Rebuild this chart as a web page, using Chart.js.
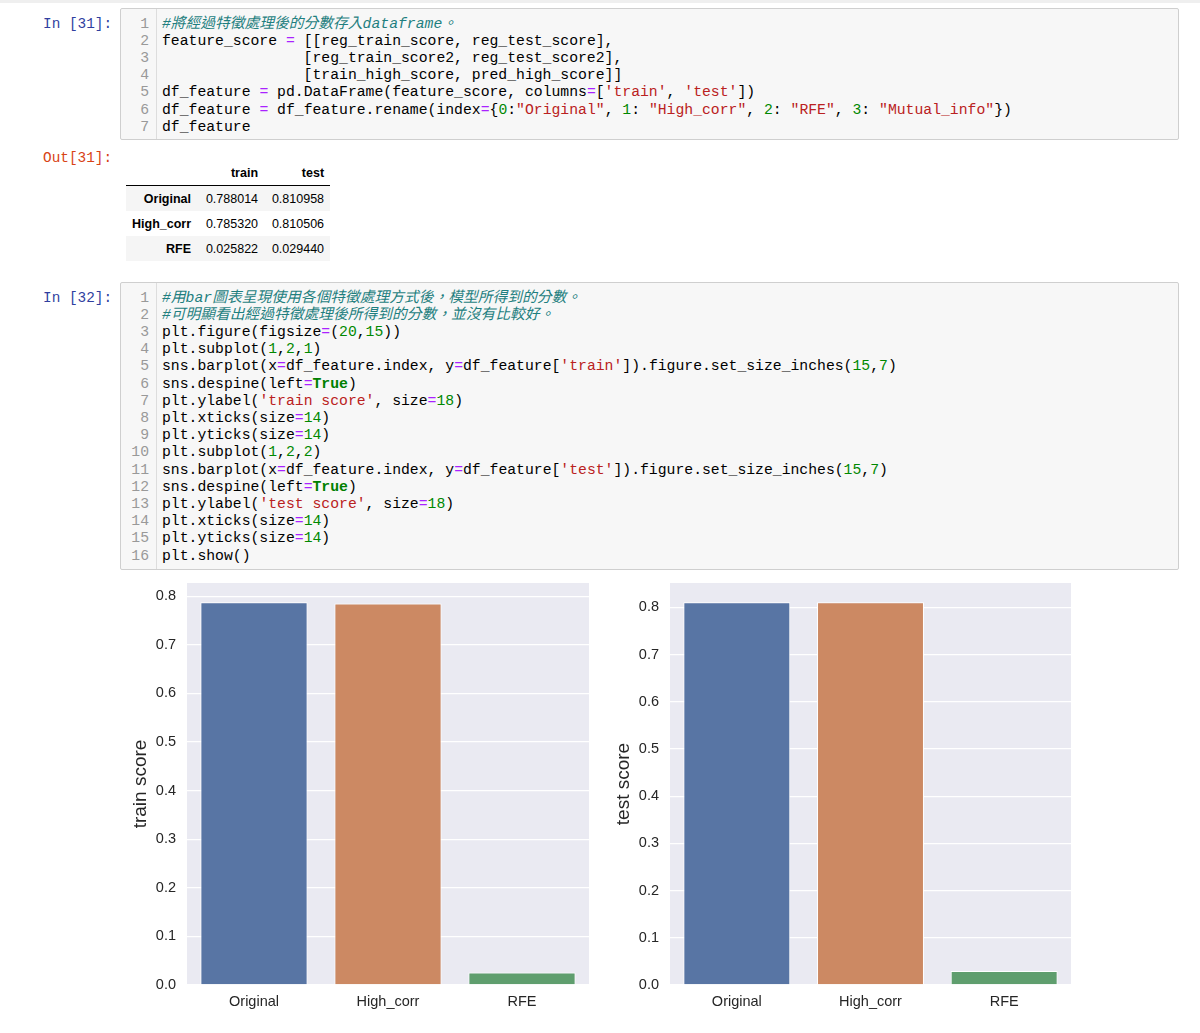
<!DOCTYPE html>
<html>
<head>
<meta charset="utf-8">
<script src="https://cdn.jsdelivr.net/npm/chart.js@4.4.1/dist/chart.umd.min.js"></script>
<style>
  html, body { margin: 0; padding: 0; background: #fff; }
  body { width: 1200px; height: 1033px; position: relative; overflow: hidden; }
  .topline { position: absolute; left: 0; top: 0; width: 1200px; height: 3px; background: #efefef; }
  .prompt { position: absolute; left: 43px; font: 14.4px 'Liberation Mono', monospace; line-height: 17.2px; white-space: pre; }
  .in { color: #303f9f; }
  .out { color: #d84315; }
  .cell { position: absolute; left: 120px; width: 1057px; border: 1px solid #cfcfcf; background: #f7f7f7; border-radius: 2px; }
  .gutter { position: absolute; left: 0; top: 0; bottom: 0; width: 35px; border-right: 1px solid #dddddd; }
  .nums, .code { position: absolute; top: 6.6px; font: 14.76px 'Liberation Mono', 'Noto Sans CJK TC', monospace; line-height: 17.2px; white-space: pre; }
  .nums { left: 0; width: 28px; text-align: right; color: #999; }
  .code { left: 41px; color: #000; }
  .c { color: #1f7f7f; font-style: italic; }
  .o { color: #aa22ff; }
  .n { color: #008800; }
  .s { color: #ba2121; }
  .k { color: #008000; font-weight: bold; }
  table.df { position: absolute; left: 126px; top: 160px; border-collapse: collapse; font: 12.5px 'Liberation Sans', Arial, sans-serif; color: #000; }
  table.df th, table.df td { text-align: right; padding: 0 6px 0 6px; height: 25px; }
  table.df thead th { height: 25px; border-bottom: 1px solid #000; }
  table.df tbody th { font-weight: bold; }
  table.df tbody tr:nth-child(odd) { background: #f5f5f5; }
  canvas { position: absolute; top: 576px; }
</style>
</head>
<body>
<div class="topline"></div>

<div class="prompt in" style="top:15.6px">In [31]:</div>
<div class="cell" style="top:8px;height:130px">
  <div class="gutter"></div>
  <div class="nums">1
2
3
4
5
6
7</div>
  <div class="code"><span class="c">#將經過特徵處理後的分數存入dataframe。</span>
feature_score <span class="o">=</span> [[reg_train_score, reg_test_score],
                [reg_train_score2, reg_test_score2],
                [train_high_score, pred_high_score]]
df_feature <span class="o">=</span> pd.DataFrame(feature_score, columns<span class="o">=</span>[<span class="s">'train'</span>, <span class="s">'test'</span>])
df_feature <span class="o">=</span> df_feature.rename(index<span class="o">=</span>{<span class="n">0</span>:<span class="s">"Original"</span>, <span class="n">1</span>: <span class="s">"High_corr"</span>, <span class="n">2</span>: <span class="s">"RFE"</span>, <span class="n">3</span>: <span class="s">"Mutual_info"</span>})
df_feature</div>
</div>

<div class="prompt out" style="top:149.6px">Out[31]:</div>
<table class="df" id="dfTable">
  <thead><tr><th style="width:59px"></th><th style="width:55px">train</th><th style="width:54px">test</th></tr></thead>
  <tbody></tbody>
</table>

<div class="prompt in" style="top:289.8px">In [32]:</div>
<div class="cell" style="top:282px;height:286px">
  <div class="gutter"></div>
  <div class="nums">1
2
3
4
5
6
7
8
9
10
11
12
13
14
15
16</div>
  <div class="code"><span class="c">#用bar圖表呈現使用各個特徵處理方式後，模型所得到的分數。</span>
<span class="c">#可明顯看出經過特徵處理後所得到的分數，並沒有比較好。</span>
plt.figure(figsize<span class="o">=</span>(<span class="n">20</span>,<span class="n">15</span>))
plt.subplot(<span class="n">1</span>,<span class="n">2</span>,<span class="n">1</span>)
sns.barplot(x<span class="o">=</span>df_feature.index, y<span class="o">=</span>df_feature[<span class="s">'train'</span>]).figure.set_size_inches(<span class="n">15</span>,<span class="n">7</span>)
sns.despine(left<span class="o">=</span><span class="k">True</span>)
plt.ylabel(<span class="s">'train score'</span>, size<span class="o">=</span><span class="n">18</span>)
plt.xticks(size<span class="o">=</span><span class="n">14</span>)
plt.yticks(size<span class="o">=</span><span class="n">14</span>)
plt.subplot(<span class="n">1</span>,<span class="n">2</span>,<span class="n">2</span>)
sns.barplot(x<span class="o">=</span>df_feature.index, y<span class="o">=</span>df_feature[<span class="s">'test'</span>]).figure.set_size_inches(<span class="n">15</span>,<span class="n">7</span>)
sns.despine(left<span class="o">=</span><span class="k">True</span>)
plt.ylabel(<span class="s">'test score'</span>, size<span class="o">=</span><span class="n">18</span>)
plt.xticks(size<span class="o">=</span><span class="n">14</span>)
plt.yticks(size<span class="o">=</span><span class="n">14</span>)
plt.show()</div>
</div>

<canvas id="train-chart" width="469" height="458" style="left:120px"></canvas>
<canvas id="test-chart" width="468" height="458" style="left:603px"></canvas>

<script>
const categories = ['Original', 'High_corr', 'RFE'];
const trainScores = [0.788014, 0.785320, 0.025822];
const testScores = [0.810958, 0.810506, 0.029440];
const barColors = ['#5875a4', '#cc8963', '#5f9e6e'];
const yTicks = [0, 0.1, 0.2, 0.3, 0.4, 0.5, 0.6, 0.7, 0.8];

// dataframe output
const tbody = document.querySelector('#dfTable tbody');
categories.forEach((name, i) => {
    const row = document.createElement('tr');
    row.innerHTML = `<th>${name}</th><td>${trainScores[i].toFixed(6)}</td><td>${testScores[i].toFixed(6)}</td>`;
    tbody.appendChild(row);
});

const plotBackground = {
    id: 'plotBackground',
    beforeDraw(chart) {
        const { ctx, chartArea } = chart;
        ctx.save();
        ctx.fillStyle = '#eaeaf2';
        ctx.fillRect(chartArea.left, chartArea.top, chartArea.width, chartArea.height);
        ctx.restore();
    }
};

const textColor = '#262626';

function makeBarChart(canvasId, values, label) {
    return new Chart(document.getElementById(canvasId).getContext('2d'), {
        type: 'bar',
        plugins: [plotBackground],
        data: {
            labels: categories,
            datasets: [{
                label: label,
                data: values,
                backgroundColor: barColors,
                borderColor: '#ffffff',
                borderWidth: 1,
                categoryPercentage: 1.0,
                barPercentage: 0.8
            }]
        },
        options: {
            responsive: false,
            animation: false,
            devicePixelRatio: 1,
            layout: { padding: { top: 7, left: 0, right: 0, bottom: 0 } },
            plugins: { legend: { display: false }, tooltip: { enabled: false } },
            scales: {
                x: {
                    grid: { display: false, drawTicks: false },
                    border: { display: false },
                    ticks: { color: textColor, padding: 8, font: { family: 'Liberation Sans', size: 14.5 } },
                    afterFit: (scale) => { scale.height = 49; scale.paddingLeft = 0; scale.paddingRight = 0; }
                },
                y: {
                    min: 0,
                    max: Math.max(...values) * 1.05,
                    grid: { color: '#ffffff', lineWidth: 1.3, drawTicks: false },
                    border: { display: false },
                    afterBuildTicks: (scale) => { scale.ticks = yTicks.map(v => ({ value: v })); },
                    ticks: {
                        color: textColor,
                        padding: 11,
                        font: { family: 'Liberation Sans', size: 14.5 },
                        callback: (v) => Number(v).toFixed(1)
                    },
                    title: {
                        display: true,
                        text: label,
                        color: textColor,
                        padding: { top: 9, bottom: 0 },
                        font: { family: 'Liberation Sans', size: 19 }
                    },
                    afterFit: (scale) => { scale.width = 67; scale.paddingTop = 0; scale.paddingBottom = 0; }
                }
            }
        }
    });
}

const trainChart = makeBarChart('train-chart', trainScores, 'train score');
const testChart = makeBarChart('test-chart', testScores, 'test score');
</script>
</body>
</html>
